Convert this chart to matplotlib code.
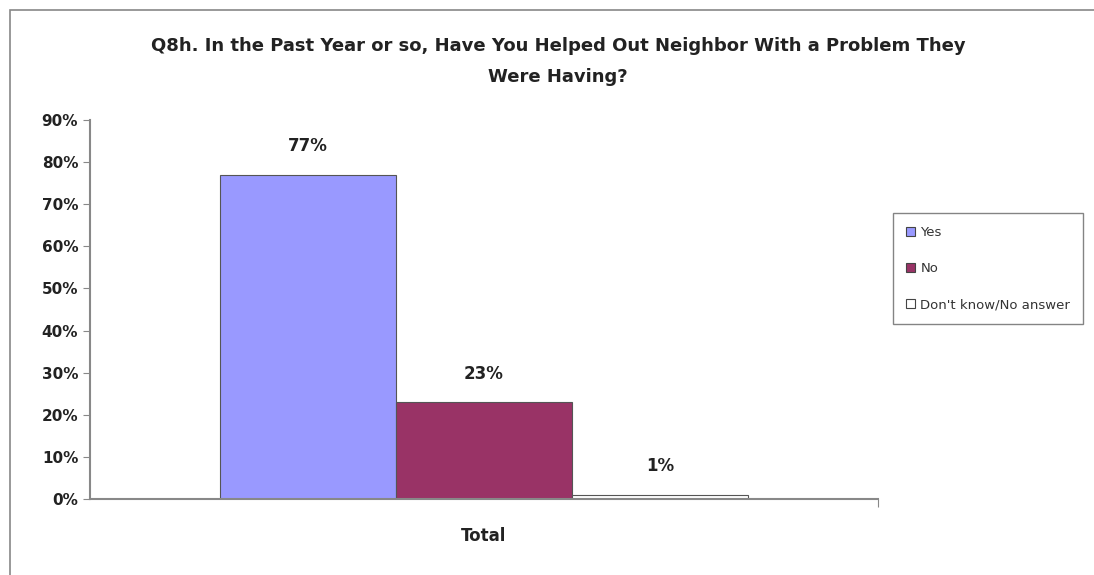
import matplotlib.pyplot as plt
from matplotlib.patches import Rectangle, Patch
from matplotlib.ticker import FuncFormatter

# survey answers (percent of respondents)
answers = ["Yes", "No", "Don't know/No answer"]
shares = [77, 23, 1]
colors = ["#9999FF", "#993366", "#FFFFFF"]
category = "Total"
title = ("Q8h. In the Past Year or so, Have You Helped Out Neighbor With a Problem They\n"
         "Were Having?")

plt.rcParams["font.family"] = ["DejaVu Sans"]

fig = plt.figure(figsize=(10.94, 5.75), dpi=100)
fig.patch.set_facecolor("white")

# outer chart frame
fig.add_artist(Rectangle((0.009, -0.05), 1.2, 1.032, transform=fig.transFigure,
                         fill=False, edgecolor="#888888", linewidth=1.2))

ax = fig.add_axes([0.0823, 0.1322, 0.7203, 0.6591])

w = 0.2235
offsets = [-w, 0, w]
for off, val, col in zip(offsets, shares, colors):
    ax.bar(off, val, width=w, color=col, edgecolor="#555555", linewidth=0.8)
    ax.annotate(f"{val}%", (off, val), xytext=(0, 14), textcoords="offset points",
                ha="center", va="bottom", fontsize=12, fontweight="bold", color="#222222")

ax.set_xlim(-0.5, 0.5)
ax.set_ylim(0, 90)
ax.set_yticks(range(0, 91, 10))
ax.yaxis.set_major_formatter(FuncFormatter(lambda v, p: f"{int(v)}%"))
ax.set_xticks([0.5])
ax.set_xticklabels([""])
ax.text(0, -0.075, category, transform=ax.get_xaxis_transform(), ha="center", va="top",
        fontsize=12, fontweight="bold", color="#222222")

for s in ["top", "right"]:
    ax.spines[s].set_visible(False)
for s in ["left", "bottom"]:
    ax.spines[s].set_color("#888888")
    ax.spines[s].set_linewidth(1.5)
ax.tick_params(axis="y", length=5, color="#888888", labelsize=11, labelcolor="#222222")
ax.tick_params(axis="x", length=6, color="#888888")
for lbl in ax.get_yticklabels():
    lbl.set_fontweight("bold")

fig.text(0.51, 0.935, title, ha="center", va="top", fontsize=13, fontweight="bold",
         color="#222222", linespacing=1.9)

handles = [Patch(facecolor=c, edgecolor="#444444", linewidth=0.8) for c in colors]
leg = fig.legend(handles, answers, loc="upper left", bbox_to_anchor=(0.816, 0.63),
                 frameon=True, fancybox=False, fontsize=9.5, handlelength=0.7,
                 handleheight=0.7, handletextpad=0.4, labelspacing=1.75,
                 borderpad=1.0, borderaxespad=0, labelcolor="#333333")
leg.get_frame().set_edgecolor("#666666")
leg.get_frame().set_linewidth(1.0)

fig.savefig("out.png", dpi=100)
